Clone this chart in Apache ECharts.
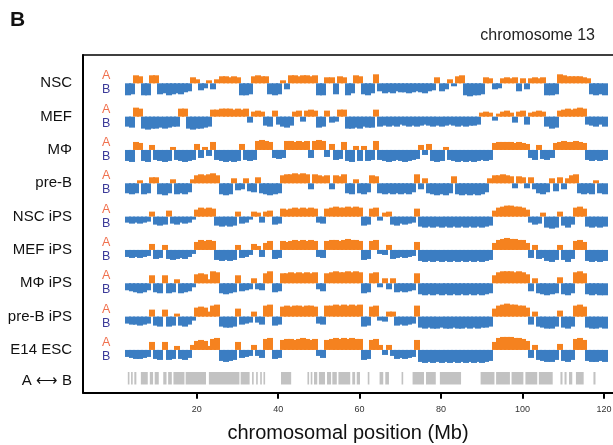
<!DOCTYPE html>
<html><head><meta charset="utf-8">
<script src="https://cdn.jsdelivr.net/npm/echarts@6/dist/echarts.min.js"></script>
<style>html,body{margin:0;padding:0;background:#fff}#c{width:613px;height:445px}</style>
</head><body><div id="c"></div>
<script>
// ---- data ----
const binStart = 3;   // Mb, centre of first bin
const binSize = 1;    // Mb
const trackNames = ['NSC','MEF','MΦ','pre-B','NSC iPS','MEF iPS','MΦ iPS','pre-B iPS','E14 ESC'];
const switchLabel = 'A ⟷ B';
const xTicks = [20,40,60,80,100,120];

const nsc = [-12,-11,8,7,-12,-12,8,8,-11,-10, -12,-11,-10,-11,-9,-8,6,4,-7,-5, 3,-6,4,7,7,6,7,6,-12,-12,
 -11,7,8,7,7,-11,-12,-11,3,-6, 8,8,7,8,8,7,8,-12,-12,6, 6,-11,7,6,-12,-10,8,7,-11,-12,
 -10,9,-8,-10,-9,-10,-8,-9,-9,-10, -9,-8,-9,-10,-8,-7,6,-8,-6,4, -3,7,8,-12,-13,-12,-12,-11,6,5,
 -6,-5,5,6,5,6,-8,5,-6,5, 6,5,6,-12,-12,-11,9,8,7,7, 7,7,6,5,-11,-12,-11,-12];
const mef = [-10,-11,9,8,-12,-13,-12,-12,-11,-12, -11,-10,-10,8,8,-12,-13,-12,-12,-11, -10,7,7,8,8,8,7,8,7,8,
 -6,5,6,5,-9,-10,6,-8,-10,-11, -9,5,6,-5,6,7,6,-11,-10,6, -6,-5,7,7,-12,-12,-11,-12,-10,-11,
 -11,7,-10,-9,-10,-9,-10,-8,-9,-10, -9,-10,-9,-8,-9,-10,-9,-10,-9,-8, -9,-10,-9,-10,-9,-9,-8,4,5,4,
 -4,3,5,6,4,-6,5,6,-8,4, 5,6,5,-10,-12,-11,6,7,8,7, 8,9,8,-8,-9,-10,-8,-10];
const mphi = [-11,-12,8,7,-11,-12,5,-10,-11,-12, -11,3,-10,-11,-12,-11,-10,6,-8,3, -6,8,-10,-11,-12,-11,-12,-11,6,-10,
 -11,-10,9,10,9,8,-8,-9,-8,9, 9,8,9,8,9,-8,9,10,9,-7, 6,-10,-9,8,-11,-12,4,-11,4,-11,
 -10,9,-10,-11,-12,-11,-10,-11,-12,-11, -10,-9,5,-5,6,-11,-12,-11,3,-10, -11,-12,-11,-12,-11,-12,-11,-10,-11,-10,
 7,8,8,8,8,7,8,7,6,-8, -10,5,-9,-10,-8,7,8,9,8,8, 9,8,7,-10,-11,-10,-11,-10];
const preB = [-10,-11,-10,3,-11,-10,6,6,-11,-12, -10,4,-11,-10,-11,-9,4,8,9,8, 9,10,8,-11,-12,-11,5,-7,-6,5,
 -8,-9,6,-10,-11,-12,-11,-10,8,9, 9,10,9,10,9,-6,9,8,7,8, -6,8,7,9,-10,-11,4,-10,-11,-9,
 8,7,-10,-11,-10,-11,-10,-11,-10,-11, -9,9,-6,5,-10,-11,-12,-11,-12,-10, 7,-11,-12,-11,-12,-11,-12,-11,-9,5,
 8,8,9,8,7,-5,7,6,-5,6, -6,-10,-11,-9,5,-8,6,-6,5,8, 9,-10,-11,-10,-11,3,-10,-11];
const nscIPS = [-6,-7,-6,-7,-6,-5,5,-8,-9,-8, 6,-7,-8,-6,-7,-6,-3,7,9,8, 9,8,-9,-10,-9,-10,-9,5,-7,-6,
 -3,5,4,-6,5,6,-8,-7,8,7, 8,9,8,9,8,9,8,-6,-7,8, 9,10,9,9,10,9,10,9,-9,-8,
 8,9,-4,4,5,-8,-9,-7,-8,-7, -6,8,-10,-11,-10,-11,-10,-11,-10,-11, -10,-11,-10,-11,-10,-11,-10,-11,-10,-9,
 6,9,10,11,11,10,10,9,7,-6, -8,-7,4,-11,-12,-11,5,-9,-11,-8, 9,10,8,-10,-11,-10,-11,-10];
const mefIPS = [-7,-8,-7,-8,-7,-6,6,-9,-8,5, -9,-10,-9,-8,-9,-7,-4,8,10,9, 10,9,-10,-11,-10,-11,-10,5,-8,-7,
 -5,6,4,-7,7,9,-9,-8,9,8, 9,10,9,10,9,10,9,-7,-8,9, 10,10,9,10,11,10,10,9,-10,-9,
 9,10,-4,-5,5,-9,-8,-7,-8,-7, -6,8,-11,-12,-11,-12,-11,-12,-11,-12, -11,-12,-11,-12,-11,-12,-11,-12,-11,-10,
 7,10,11,12,11,11,10,10,7,-8, 5,-9,-8,-11,-12,-10,5,-10,-12,-9, 9,10,8,-11,-12,-11,-12,-11];
const mphiIPS = [-7,-8,-9,-10,-9,-7,8,-9,-10,8, -10,-9,4,-10,-9,-8,-4,9,10,9, 4,12,11,-10,-11,-10,-9,8,-8,-7,
 -6,5,-6,-7,10,12,-9,-8,10,10, 11,10,11,10,11,10,11,-6,-8,10, 11,12,11,11,12,11,12,11,-10,-9,
 10,11,-4,5,-6,5,-9,-8,-9,-8, -7,10,-11,-12,-11,-12,-11,-12,-11,-12, -11,-12,-11,-12,-11,-12,-11,-12,-11,-10,
 8,11,12,12,12,11,12,11,9,-8, 5,-10,-11,-12,-11,-10,6,-11,-12,-10, 11,12,10,-11,-12,-11,-12,-12];
const preBIPS = [-7,-8,-8,-9,-8,-7,7,-9,-10,7, -10,-9,3,-9,-10,-8,-4,9,10,9, 5,11,12,-10,-11,-11,-10,8,-8,-7,
 -6,5,-6,-8,11,12,-9,-8,10,11, 10,11,11,10,11,11,10,-7,-8,11, 11,12,11,12,11,12,11,12,-10,-9,
 10,11,-4,-5,5,5,-9,-8,-9,-8, -7,11,-11,-12,-11,-12,-12,-11,-12,-12, -11,-12,-12,-11,-12,-11,-12,-11,-11,-10,
 8,11,12,13,12,12,11,11,9,-8, 5,-10,-11,-12,-12,-10,6,-11,-12,-10, 11,12,10,-11,-12,-12,-11,-12];
const e14 = [-7,-8,-9,-9,-8,-7,8,-9,-10,8, -10,-9,4,-9,-10,-8,5,9,10,9, 4,11,12,-11,-12,-11,-10,8,-8,-7,
 -6,5,-6,-8,11,12,-9,-8,10,11, 11,10,11,12,11,10,11,-6,-8,10, 11,12,11,12,11,12,11,11,-10,-9,
 10,11,5,-5,5,-6,-9,-8,-9,-8, -7,10,-12,-13,-12,-13,-12,-13,-12,-13, -12,-13,-12,-13,-12,-13,-12,-13,-12,-11,
 8,12,13,13,13,12,12,11,9,-8, 5,-10,-11,-12,-12,-10,6,-11,-12,-10, 11,12,10,-11,-12,-12,-11,-12];
const tracks = [nsc, mef, mphi, preB, nscIPS, mefIPS, mphiIPS, preBIPS, e14];

// A <-> B switching regions, [start Mb, end Mb]
const switchStarts = [3.1,3.9,4.7,6.3,8.5,9.7,11.8,13.0,14.3,17.3,23.0,30.8,33.6,34.6,35.6,36.4,40.7,47.2,48.0,48.8,50.0,52.0,53.3,54.8,58.2,59.3,62.0,64.9,66.3,70.3,73.0,76.3,79.7,89.7,93.5,97.3,100.7,104.0,109.3,110.3,111.4,113.1,117.4];
const switchEnds   = [3.5,4.3,5.2,8.0,9.3,10.7,12.6,13.9,17.0,22.3,30.5,33.0,34.0,35.0,36.0,36.8,43.2,47.6,48.4,49.6,51.5,53.0,54.4,57.7,58.9,60.1,62.4,65.8,67.2,70.7,75.8,78.7,84.9,93.1,96.9,100.2,103.6,107.4,109.8,110.8,112.2,115.0,117.9];

// ---- layout ----
const X_MIN = -7.9, X_MAX = 122.2;
const LEFT = 83;
const ROW0 = 83.3, ROWSTEP = 33.33;
const ORANGE = '#f5821f', BLUE = '#3b7dc2';
const FONT = 'Liberation Sans, Arial, sans-serif';

const chart = echarts.init(document.getElementById('c'), null, {renderer:'canvas'});
const G = (o) => Object.assign({outerBoundsMode:'none', containLabel:false}, o);
const grids = [G({left: LEFT, right: 0, top: 55, bottom: 52.3})];
const xAxes = [
  {gridIndex:0, type:'value', min:X_MIN, max:X_MAX, position:'bottom',
   axisLine:{onZero:false, lineStyle:{color:'#000', width:2}},
   axisTick:{customValues:xTicks, length:6, lineStyle:{color:'#000', width:2}},
   axisLabel:{customValues:xTicks, fontSize:9, color:'#333', margin:12, fontFamily:FONT},
   splitLine:{show:false},
   name:'chromosomal position (Mb)', nameLocation:'middle', nameGap:31,
   nameTextStyle:{fontSize:20, color:'#111', fontFamily:FONT}},
  {gridIndex:0, type:'value', min:X_MIN, max:X_MAX, position:'top',
   axisLine:{onZero:false, lineStyle:{color:'#000', width:1.5}}, axisTick:{show:false}, axisLabel:{show:false}, splitLine:{show:false}}
];
const rowVals = trackNames.map((n,i)=>i).concat([8.92]);
const rowTexts = trackNames.concat([switchLabel]);
const yMinMain = -(ROW0-55)/ROWSTEP;
const yAxes = [
  {gridIndex:0, type:'value', inverse:true, min:yMinMain, max:yMinMain + (392.7-55)/ROWSTEP,
   axisLine:{show:true, onZero:false, lineStyle:{color:'#000', width:2}}, axisTick:{show:false}, splitLine:{show:false},
   axisLabel:{customValues:rowVals, margin:11, fontSize:15, color:'#111', fontFamily:FONT,
     formatter:(v)=>{let k=0,b=1e9;rowVals.forEach((r,i)=>{if(Math.abs(r-v)<b){b=Math.abs(r-v);k=i;}});return rowTexts[k];}}}
];
const series = [];
const binRender = (params, api) => {
  const x = api.value(0), v = api.value(1);
  const a = api.coord([x - binSize/2, v]);
  const b = api.coord([x + binSize/2, 0]);
  return {type:'rect', shape:{x:Math.floor(a[0]), y:Math.min(a[1],b[1]), width:Math.ceil(b[0]-a[0])+1, height:Math.abs(b[1]-a[1])},
          style:{fill: v >= 0 ? ORANGE : BLUE, stroke:null, lineWidth:0}};
};
tracks.forEach((vals, i) => {
  const base = ROW0 + ROWSTEP*i;
  grids.push(G({left: LEFT, right: 0, top: base-13, height: 26}));
  xAxes.push({gridIndex:i+1, type:'value', min:X_MIN, max:X_MAX, show:false});
  yAxes.push({gridIndex:i+1, type:'value', min:-13, max:13,
    axisLine:{show:false}, axisTick:{show:false}, splitLine:{show:false},
    axisLabel:{inside:true, margin:19, customValues:[7.4,-6.7], fontSize:12.5, fontFamily:FONT,
      formatter:(v)=> v>0 ? 'A' : 'B', color:(v)=> v>0 ? '#f0704e' : '#3b3a99'}});
  series.push({type:'custom', xAxisIndex:i+2, yAxisIndex:i+1, silent:true,
    data: vals.map((v,k)=>[binStart + k*binSize, v]),
    encode:{x:0, y:1}, renderItem: binRender});
});
// switch track
grids.push(G({left: LEFT, right: 0, top: 372, height: 12.5}));
xAxes.push({gridIndex:10, type:'value', min:X_MIN, max:X_MAX, show:false});
yAxes.push({gridIndex:10, type:'value', min:0, max:1, show:false});
series.push({type:'custom', xAxisIndex:11, yAxisIndex:10, silent:true,
  data: switchStarts.map((s,i)=>[s, switchEnds[i]]),
  encode:{x:[0,1]},
  renderItem:(params, api)=>{
    const a = api.coord([api.value(0), 1]);
    const b = api.coord([api.value(1), 0]);
    return {type:'rect', shape:{x:a[0], y:a[1], width:Math.max(b[0]-a[0],1.5), height:b[1]-a[1]}, style:{fill:'#c2c2c2', stroke:null, lineWidth:0}};
  }});

chart.setOption({
  animation:false,
  backgroundColor:'#fff',
  title:[
    {text:'B', left:10, top:10, padding:0, textStyle:{fontSize:21, fontWeight:'bold', color:'#111', fontFamily:FONT}},
    {text:'chromosome 13', right:18, top:28, padding:0, textStyle:{fontSize:16, fontWeight:'normal', color:'#222', fontFamily:FONT}}
  ],
  grid:grids, xAxis:xAxes, yAxis:yAxes, series:series
});
</script></body></html>
